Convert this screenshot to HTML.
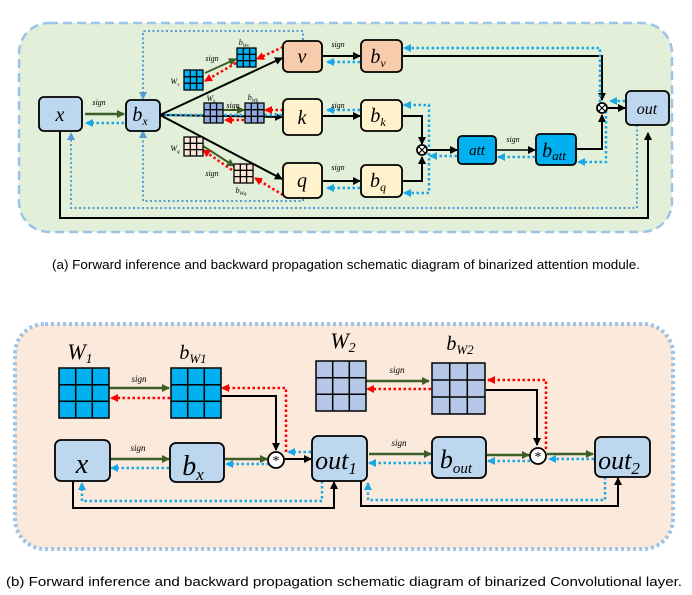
<!DOCTYPE html>
<html><head><meta charset="utf-8"><style>
html,body{margin:0;padding:0;background:#fff;width:692px;height:595px;overflow:hidden}
svg text{font-family:"Liberation Serif",serif;font-style:italic}
.cap{font-family:"Liberation Sans",sans-serif;font-style:normal;font-size:12.5px}
</style></head><body>
<svg width="692" height="595" viewBox="0 0 692 595" xmlns="http://www.w3.org/2000/svg">
<defs>
<marker id="ak" markerWidth="8" markerHeight="8" refX="7" refY="4" orient="auto" markerUnits="userSpaceOnUse"><path d="M0,0 L8,4 L0,8z" fill="#000"/></marker>
<marker id="ag" markerWidth="8" markerHeight="8" refX="7" refY="4" orient="auto" markerUnits="userSpaceOnUse"><path d="M0,0 L8,4 L0,8z" fill="#3d5e24"/></marker>
<marker id="ab" markerWidth="8" markerHeight="8" refX="7" refY="4" orient="auto" markerUnits="userSpaceOnUse"><path d="M0,0 L8,4 L0,8z" fill="#1aa7e8"/></marker>
<marker id="al" markerWidth="8" markerHeight="8" refX="7" refY="4" orient="auto" markerUnits="userSpaceOnUse"><path d="M0,0 L8,4 L0,8z" fill="#5b9bd5"/></marker>
<marker id="ar" markerWidth="8" markerHeight="8" refX="7" refY="4" orient="auto" markerUnits="userSpaceOnUse"><path d="M0,0 L8,4 L0,8z" fill="#f00"/></marker>
</defs>
<!-- Panel A -->
<rect x="19" y="23" width="653" height="209" rx="30" fill="#e2efd9" stroke="#9dc3e6" stroke-width="2.5" stroke-dasharray="9,5"/>
<g fill="none" stroke-linecap="butt">
<path d="M60,131 V218 H648 V133" stroke="#000" stroke-width="2" marker-end="url(#ak)"/>
<path d="M160,115 L282,58" stroke="#000" stroke-width="2" marker-end="url(#ak)"/>
<path d="M160,115 L282,117" stroke="#000" stroke-width="2" marker-end="url(#ak)"/>
<path d="M160,115 L282,179" stroke="#000" stroke-width="2" marker-end="url(#ak)"/>
<path d="M322,56 H360" stroke="#000" stroke-width="2" marker-end="url(#ak)"/>
<path d="M322,116 H360" stroke="#000" stroke-width="2" marker-end="url(#ak)"/>
<path d="M322,181 H360" stroke="#000" stroke-width="2" marker-end="url(#ak)"/>
<path d="M402,56 H602 V100" stroke="#000" stroke-width="2" marker-end="url(#ak)"/>
<path d="M402,116 H422 V144" stroke="#000" stroke-width="2" marker-end="url(#ak)"/>
<path d="M402,181 H422 V157" stroke="#000" stroke-width="2" marker-end="url(#ak)"/>
<path d="M428,150 H457" stroke="#000" stroke-width="2" marker-end="url(#ak)"/>
<path d="M496,150 H535" stroke="#000" stroke-width="1.5" marker-end="url(#ak)"/>
<path d="M576,149 H602 V115" stroke="#000" stroke-width="2" marker-end="url(#ak)"/>
<path d="M608,108 H625" stroke="#000" stroke-width="2" marker-end="url(#ak)"/>
<path d="M85,114 H124" stroke="#3d5e24" stroke-width="2.5" marker-end="url(#ag)"/>
<path d="M205,73 L236,59" stroke="#3d5e24" stroke-width="2" marker-end="url(#ag)"/>
<path d="M223,110 H244" stroke="#3d5e24" stroke-width="2" marker-end="url(#ag)"/>
<path d="M203,146 L234,166" stroke="#3d5e24" stroke-width="2" marker-end="url(#ag)"/>
<g stroke="#f00" stroke-width="2.5" stroke-dasharray="2.5,2.5">
<path d="M283,47 L257,59" marker-end="url(#ar)"/>
<path d="M236,63 L205,81" marker-end="url(#ar)"/>
<path d="M283,110 H265" marker-end="url(#ar)"/>
<path d="M244,120 H225" marker-end="url(#ar)"/>
<path d="M283,195 L255,178" marker-end="url(#ar)"/>
<path d="M232,170 L203,150" marker-end="url(#ar)"/>
</g>
<g stroke="#1aa7e8" stroke-width="2.5" stroke-dasharray="2.5,2.5">
<path d="M124,123 H86" marker-end="url(#ab)"/>
<path d="M282,115 H162" />
<path d="M360,62 H327" marker-end="url(#ab)"/>
<path d="M360,110 H327" marker-end="url(#ab)"/>
<path d="M360,188 H327" marker-end="url(#ab)"/>
<path d="M600,102 V48 H404" marker-end="url(#ab)"/>
<path d="M429,147 V105 H404" marker-end="url(#ab)"/>
<path d="M429,153 V193 H404" marker-end="url(#ab)"/>
<path d="M457,156 H430" marker-end="url(#ab)"/>
<path d="M535,157 H498" marker-end="url(#ab)"/>
<path d="M606,106 V162 H578" marker-end="url(#ab)"/>
<path d="M625,101 H610" marker-end="url(#ab)"/>
</g>
<g stroke="#5b9bd5" stroke-width="2" stroke-dasharray="2,2.5">
<path d="M303,40 V31 H143 V99" marker-end="url(#al)"/>
<path d="M303,199 V201 H143 V131" marker-end="url(#al)"/>
<path d="M637,125 V208 H71 V133" marker-end="url(#al)"/>
</g>
</g>
<g stroke="#000" stroke-width="1.8">
<rect x="39" y="97" width="43" height="34" rx="5" fill="#bdd7ee"/>
<rect x="126" y="100" width="34" height="31" rx="5" fill="#bdd7ee"/>
<rect x="283" y="41" width="39" height="31" rx="5" fill="#f8cbad"/>
<rect x="283" y="99" width="39" height="36" rx="5" fill="#fff2cc"/>
<rect x="283" y="163" width="39" height="35" rx="5" fill="#fff2cc"/>
<rect x="361" y="40" width="41" height="32" rx="5" fill="#f8cbad"/>
<rect x="361" y="100" width="41" height="31" rx="5" fill="#fff2cc"/>
<rect x="361" y="165" width="41" height="32" rx="5" fill="#fff2cc"/>
<rect x="458" y="136" width="38" height="28" rx="4" fill="#00b0f0"/>
<rect x="536" y="134" width="40" height="31" rx="4" fill="#00b0f0"/>
<rect x="626" y="91" width="43" height="34" rx="5" fill="#bdd7ee"/>
<circle cx="422" cy="150" r="5" fill="#fff"/><circle cx="602" cy="108" r="5" fill="#fff"/>
</g>
<g stroke="#000" stroke-width="1.2"><path d="M418.5,146.5 L425.5,153.5 M425.5,146.5 L418.5,153.5 M598.5,104.5 L605.5,111.5 M605.5,104.5 L598.5,111.5"/></g>
<g stroke="#000" stroke-width="1.3">
<g fill="#00b0f0"><rect x="184" y="70" width="19" height="20"/><rect x="237" y="48" width="19" height="19"/></g>
<g fill="#8faadc"><rect x="204" y="103" width="19" height="20"/><rect x="245" y="103" width="19" height="20"/></g>
<g fill="#fbe5d6"><rect x="184" y="137" width="19" height="19"/><rect x="234" y="164" width="19" height="19"/></g>
<path d="M190.3,70V90M196.6,70V90M184,76.7H203M184,83.3H203 M243.3,48V67M249.6,48V67M237,54.3H256M237,60.6H256 M210.3,103V123M216.6,103V123M204,109.7H223M204,116.3H223 M251.3,103V123M257.6,103V123M245,109.7H264M245,116.3H264 M190.3,137V156M196.6,137V156M184,143.3H203M184,149.6H203 M240.3,164V183M246.6,164V183M234,170.3H253M234,176.6H253"/>
</g>
<g font-size="20" text-anchor="middle">
<text x="60" y="121">x</text><text x="140" y="121">b<tspan font-size="12" dy="4">x</tspan></text>
<text x="302" y="63">v</text><text x="302" y="124">k</text><text x="302" y="187">q</text>
<text x="378" y="63">b<tspan font-size="12" dy="4">v</tspan></text>
<text x="378" y="122">b<tspan font-size="12" dy="4">k</tspan></text>
<text x="378" y="187">b<tspan font-size="12" dy="4">q</tspan></text>
<text x="477" y="155" font-size="15">att</text>
<text x="554" y="157">b<tspan font-size="13" dy="3">att</tspan></text>
<text x="647" y="114" font-size="16">out</text>
</g>
<g font-size="8" text-anchor="middle">
<text x="99" y="105">sign</text><text x="212" y="61">sign</text><text x="233" y="108">sign</text><text x="212" y="176">sign</text>
<text x="338" y="47">sign</text><text x="338" y="108">sign</text><text x="338" y="170">sign</text><text x="513" y="142">sign</text>
<text x="175" y="84">W<tspan font-size="5" dy="2">v</tspan></text>
<text x="211" y="101">W<tspan font-size="5" dy="2">k</tspan></text>
<text x="175" y="151">W<tspan font-size="5" dy="2">q</tspan></text>
<text x="244" y="45">b<tspan font-size="5" dy="2">Wv</tspan></text>
<text x="253" y="100">b<tspan font-size="5" dy="2">Wk</tspan></text>
<text x="241" y="193">b<tspan font-size="5" dy="2">Wq</tspan></text>
</g>
<text class="cap" x="52" y="269" textLength="588" lengthAdjust="spacingAndGlyphs">(a) Forward inference and backward propagation schematic diagram of binarized attention module.</text>

<!-- Panel B -->
<rect x="15" y="324" width="658" height="225" rx="30" fill="#fbe9dc" stroke="#9dc3e6" stroke-width="4" stroke-dasharray="3,3"/>
<g fill="none">
<path d="M110,459 H169" stroke="#3d5e24" stroke-width="2.5" marker-end="url(#ag)"/>
<path d="M225,459 H267" stroke="#3d5e24" stroke-width="2.5" marker-end="url(#ag)"/>
<path d="M109,388 H169" stroke="#3d5e24" stroke-width="2.5" marker-end="url(#ag)"/>
<path d="M366,381 H429" stroke="#3d5e24" stroke-width="2.5" marker-end="url(#ag)"/>
<path d="M369,454 H431" stroke="#3d5e24" stroke-width="2.5" marker-end="url(#ag)"/>
<path d="M487,455 H529" stroke="#3d5e24" stroke-width="2.5" marker-end="url(#ag)"/>
<path d="M547,454 H593" stroke="#3d5e24" stroke-width="2.5" marker-end="url(#ag)"/>
<path d="M221,396 H276 V450" stroke="#000" stroke-width="2" marker-end="url(#ak)"/>
<path d="M285,459 H311" stroke="#000" stroke-width="2" marker-end="url(#ak)"/>
<path d="M486,390 H537 V445" stroke="#000" stroke-width="2" marker-end="url(#ak)"/>
<path d="M73,482 V508 H334 V482" stroke="#000" stroke-width="2" marker-end="url(#ak)"/>
<path d="M361,481 V506 H618 V478" stroke="#000" stroke-width="2" marker-end="url(#ak)"/>
<g stroke="#f00" stroke-width="2.5" stroke-dasharray="2.5,2.5">
<path d="M170,398 H111" marker-end="url(#ar)"/>
<path d="M286,452 V388 H222" marker-end="url(#ar)"/>
<path d="M431,389 H367" marker-end="url(#ar)"/>
<path d="M546,449 V380 H488" marker-end="url(#ar)"/>
</g>
<g stroke="#1aa7e8" stroke-width="2.5" stroke-dasharray="2.5,2.5">
<path d="M169,468 H111" marker-end="url(#ab)"/>
<path d="M269,464 H226" marker-end="url(#ab)"/>
<path d="M311,452 H288" marker-end="url(#ab)"/>
<path d="M431,463 H369" marker-end="url(#ab)"/>
<path d="M530,461 H488" marker-end="url(#ab)"/>
<path d="M594,459 H549" marker-end="url(#ab)"/>
<path d="M322,481 V501 H82 V483" marker-end="url(#ab)"/>
<path d="M605,477 V500 H368 V483" marker-end="url(#ab)"/>
</g>
</g>
<g stroke="#000" stroke-width="1.8">
<rect x="55" y="440" width="55" height="41" rx="6" fill="#bdd7ee"/>
<rect x="170" y="443" width="54" height="39" rx="6" fill="#bdd7ee"/>
<rect x="312" y="436" width="55" height="45" rx="6" fill="#bdd7ee"/>
<rect x="432" y="437" width="54" height="41" rx="6" fill="#bdd7ee"/>
<rect x="595" y="437" width="55" height="40" rx="6" fill="#bdd7ee"/>
<circle cx="276" cy="460" r="8" fill="#fff"/><circle cx="538" cy="456" r="8" fill="#fff"/>
</g>
<g font-size="14" text-anchor="middle"><text x="276" y="465" style="font-style:normal">*</text><text x="538" y="461" style="font-style:normal">*</text></g>
<g stroke="#000" stroke-width="1.5">
<g fill="#00b0f0"><rect x="59" y="368" width="50" height="50"/><rect x="171" y="368" width="50" height="50"/></g>
<g fill="#b4c7e7"><rect x="316" y="361" width="50" height="50"/><rect x="432" y="363" width="53" height="51"/></g>
<path d="M75.7,368V418M92.3,368V418M59,384.7H109M59,401.3H109 M187.7,368V418M204.3,368V418M171,384.7H221M171,401.3H221 M332.7,361V411M349.3,361V411M316,377.7H366M316,394.3H366 M449.7,363V414M467.3,363V414M432,380H485M432,397H485"/>
</g>
<g text-anchor="middle">
<text x="82" y="473" font-size="28">x</text>
<text x="193" y="475" font-size="28">b<tspan font-size="17" dy="5">x</tspan></text>
<text x="336" y="469" font-size="26">out<tspan font-size="17" dy="5">1</tspan></text>
<text x="456" y="468" font-size="26">b<tspan font-size="15" dy="5">out</tspan></text>
<text x="619" y="469" font-size="26">out<tspan font-size="17" dy="5">2</tspan></text>
<text x="80" y="359" font-size="22">W<tspan font-size="14" dy="4">1</tspan></text>
<text x="193" y="359" font-size="20">b<tspan font-size="13" dy="4">W1</tspan></text>
<text x="343" y="348" font-size="22">W<tspan font-size="14" dy="4">2</tspan></text>
<text x="460" y="350" font-size="20">b<tspan font-size="13" dy="4">W2</tspan></text>
<g font-size="9"><text x="139" y="382">sign</text><text x="138" y="451">sign</text><text x="397" y="373">sign</text><text x="399" y="446">sign</text></g>
</g>
<text class="cap" x="6" y="586" textLength="676" lengthAdjust="spacingAndGlyphs">(b) Forward inference and backward propagation schematic diagram of binarized  Convolutional layer.</text>
</svg>
</body></html>
